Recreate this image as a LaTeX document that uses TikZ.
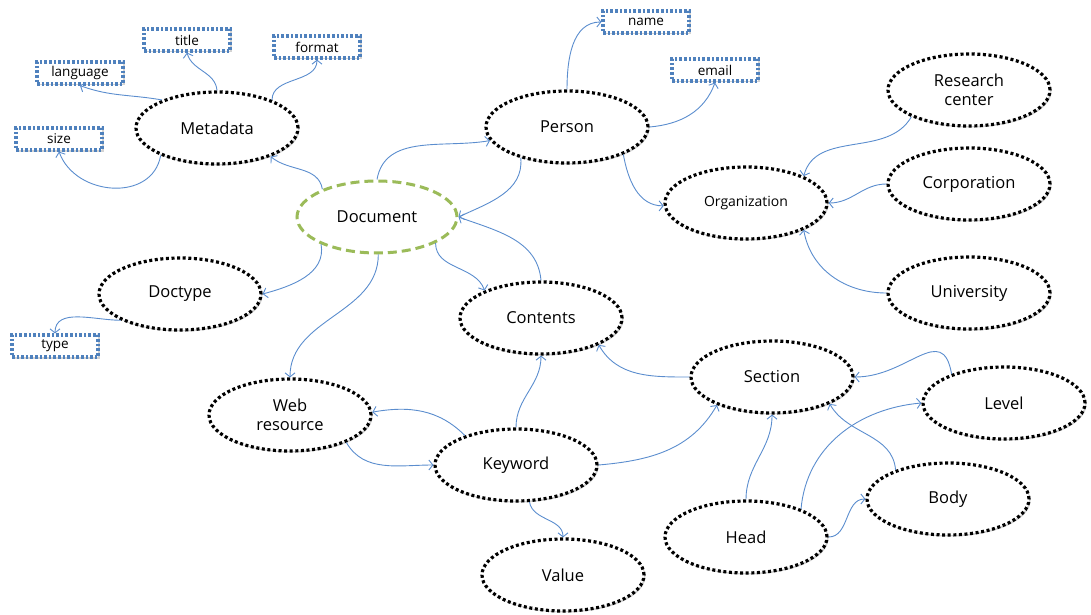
\documentclass[tikz,border=0pt]{standalone}
\usepackage{fontspec}
\setmainfont{Open Sans}
\usetikzlibrary{shapes.geometric,arrows.meta,shadows}

\definecolor{linkblue}{RGB}{91,141,206}
\definecolor{attrblue}{RGB}{79,129,189}
\definecolor{docgreen}{RGB}{155,187,89}

\begin{document}
\begin{tikzpicture}[x=1pt, y=1pt,
  concept/.style={ellipse, draw=black, line width=3.2pt, dash pattern=on 3pt off 2.6pt,
    fill=white, minimum width=162pt, minimum height=72pt, inner sep=0pt, align=center,
    font=\fontsize{16.5}{19}\selectfont,
    drop shadow={shadow xshift=1.5pt, shadow yshift=-1.5pt, opacity=0.35}},
  root/.style={ellipse, draw=docgreen, line width=3pt, dash pattern=on 9pt off 5pt,
    fill=white, minimum width=160pt, minimum height=72pt, inner sep=0pt,
    font=\fontsize{16.5}{19}\selectfont},
  attr/.style={rectangle, draw=attrblue, line width=3.2pt, dash pattern=on 2.6pt off 2pt,
    fill=white, minimum width=86pt, minimum height=22pt, inner sep=0pt,
    font=\fontsize{13.5}{15}\selectfont,
    drop shadow={shadow xshift=1.5pt, shadow yshift=-1.5pt, opacity=0.35}},
  link/.style={draw=linkblue, line width=0.9pt, -{Straight Barb[length=4pt,width=10pt]}}]

  \useasboundingbox (0,0) rectangle (1091,-615);

  % concepts
  \node[root] (doc) at (377,-217) {Document};
  \node[concept] (meta) at (217,-128) {Metadata};
  \node[concept] (person) at (567,-127) {Person};
  \node[concept, font=\fontsize{14}{16}\selectfont] (org) at (746,-203) {Organization};
  \node[concept] (research) at (969,-90) {Research\\center};
  \node[concept] (corp) at (969,-184) {Corporation};
  \node[concept] (univ) at (969,-293) {University};
  \node[concept] (doctype) at (180,-294) {Doctype};
  \node[concept] (contents) at (541,-318) {Contents};
  \node[concept] (section) at (772,-377) {Section};
  \node[concept] (level) at (1004,-403) {Level};
  \node[concept] (web) at (290,-415) {Web\\resource};
  \node[concept] (keyword) at (516,-465) {Keyword};
  \node[concept] (body) at (948,-499) {Body};
  \node[concept] (head) at (746,-537) {Head};
  \node[concept] (value) at (563,-575) {Value};

  % attributes
  \node[attr] (title) at (187,-40) {title};
  \node[attr] (format) at (317,-47) {format};
  \node[attr] (lang) at (80,-73) {language};
  \node[attr] (size) at (59,-139) {size};
  \node[attr] (type) at (55,-346) {type};
  \node[attr] (name) at (646,-22) {name};
  \node[attr] (email) at (715,-70) {email};

  % links
  \draw[link] (meta.90) to[out=95,in=-75] (title.south);
  \draw[link] (meta.27) to[out=90,in=-90] (format.south);
  \draw[link] (meta.153) to[out=170,in=-20] (lang.south);
  \draw[link] (meta.206) to[out=-100,in=-70,looseness=1.2] (size.south);
  \draw[link] (doc.153) to[out=100,in=-40] (meta.-28);
  \draw[link] (doc.90) to[out=80,in=190] (person.190);
  \draw[link] (person.214) to[out=-85,in=25] (doc.east);
  \draw[link] (contents.90) to[out=95,in=-20] (doc.east);
  \draw[link] (person.90) to[out=90,in=180] (name.west);
  \draw[link] (person.0) to[out=5,in=-110] (email.south);
  \draw[link] (person.-26) to[out=-80,in=180] (org.182);
  \draw[link] (research.205) to[out=-120,in=75] (org.25);
  \draw[link] (corp.west) to[out=180,in=0] (org.east);
  \draw[link] (univ.west) to[out=180,in=-80] (org.-25);
  \draw[link] (doc.206) to[out=-80,in=15] (doctype.east);
  \draw[link] (doctype.204) to[out=180,in=90] (type.north);
  \draw[link] (doc.-88) to[out=-90,in=90] (web.north);
  \draw[link] (doc.-24) to[out=-90,in=110] (contents.154);
  \draw[link] (keyword.90) to[out=90,in=-90] (contents.south);
  \draw[link] (section.west) to[out=180,in=-60] (contents.-25);
  \draw[link] (keyword.east) to[out=5,in=-120] (section.207);
  \draw[link] (keyword.150) to[out=135,in=10] (web.2);
  \draw[link] (web.-26) to[out=-60,in=180] (keyword.west);
  \draw[link] (keyword.-70) to[out=-80,in=90] (value.north);
  \draw[link] (level.151) to[out=100,in=0,looseness=1.4] (section.east);
  \draw[link] (head.north) to[out=90,in=-90] (section.south);
  \draw[link] (head.27) to[out=85,in=185] (level.west);
  \draw[link] (body.151) to[out=95,in=-60] (section.-25);
  \draw[link] (head.east) to[out=0,in=180] (body.west);
\end{tikzpicture}
\end{document}
